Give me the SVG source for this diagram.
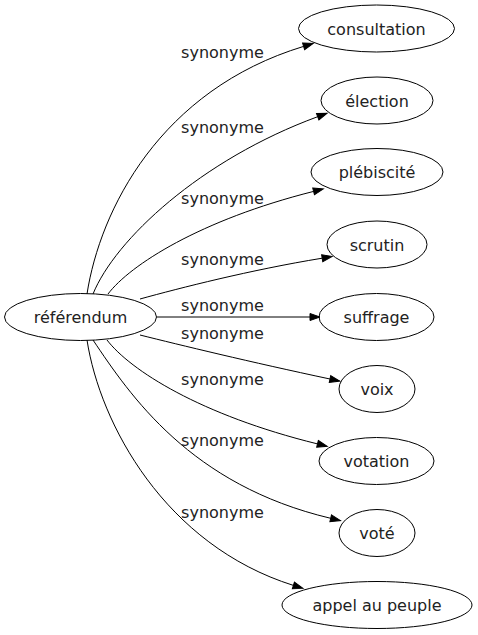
<svg xmlns="http://www.w3.org/2000/svg" width="478" height="635" viewBox="0 0 478 635">
<defs>
<style>
.node ellipse{fill:none;stroke:#000;stroke-width:1}
.node text{font-family:"DejaVu Sans",Verdana,sans-serif;font-size:16px;fill:#222;text-anchor:middle}
.edge path{fill:none;stroke:#000;stroke-width:1}
.lbl{font-family:"DejaVu Sans",Verdana,sans-serif;font-size:16px;fill:#222;text-anchor:middle}
</style>
<marker id="arr" markerUnits="userSpaceOnUse" markerWidth="12" markerHeight="9" viewBox="0 -4.5 12 9" refX="0" refY="0" orient="auto" overflow="visible">
<path d="M0,-3.5 L10,0 L0,3.5 z" fill="#000" stroke="#000" stroke-width="1"/>
</marker>
</defs>
<rect width="478" height="635" fill="#fff"/>
<g id="edges" class="edge">
<path d="M87,294 C100,210 160,90 303.6,46.4" marker-end="url(#arr)"/>
<path d="M93,294 C115,240 200,160 317.7,116.7" marker-end="url(#arr)"/>
<path d="M108,294 C130,265 200,220 313.6,191.4" marker-end="url(#arr)"/>
<path d="M140,299 C180,288 250,270 322.2,258.2" marker-end="url(#arr)"/>
<path d="M157,317 L310,317" marker-end="url(#arr)"/>
<path d="M140,335 C180,345 250,362 330,379" marker-end="url(#arr)"/>
<path d="M107,340 C130,370 200,415 317.5,443.9" marker-end="url(#arr)"/>
<path d="M93,340 C130,395 190,485 330.7,518.3" marker-end="url(#arr)"/>
<path d="M87,340 C100,424 165,545 293.4,585.4" marker-end="url(#arr)"/>
<text class="lbl" x="222.5" y="57.5">synonyme</text>
<text class="lbl" x="222.5" y="132.5">synonyme</text>
<text class="lbl" x="222.5" y="204">synonyme</text>
<text class="lbl" x="222.5" y="264.5">synonyme</text>
<text class="lbl" x="222.5" y="311">synonyme</text>
<text class="lbl" x="222.5" y="338.5">synonyme</text>
<text class="lbl" x="222.5" y="384.5">synonyme</text>
<text class="lbl" x="222.5" y="446">synonyme</text>
<text class="lbl" x="222.5" y="517.5">synonyme</text>
</g>
<g id="referendum" class="node"><ellipse cx="80.5" cy="317" rx="76" ry="23.5"/><text x="80.5" y="323">référendum</text></g>
<g id="consultation" class="node"><ellipse cx="376.5" cy="28.5" rx="78" ry="23.5"/><text x="376.5" y="34.5">consultation</text></g>
<g id="election" class="node"><ellipse cx="377" cy="100.5" rx="56" ry="23.5"/><text x="377" y="106.5">élection</text></g>
<g id="plebiscite" class="node"><ellipse cx="377" cy="172" rx="66" ry="23.5"/><text x="377" y="178">plébiscité</text></g>
<g id="scrutin" class="node"><ellipse cx="377" cy="244.5" rx="50" ry="23.5"/><text x="377" y="250.5">scrutin</text></g>
<g id="suffrage" class="node"><ellipse cx="376.5" cy="317" rx="57.5" ry="23.5"/><text x="376.5" y="323">suffrage</text></g>
<g id="voix" class="node"><ellipse cx="377" cy="389" rx="38" ry="23.5"/><text x="377" y="395">voix</text></g>
<g id="votation" class="node"><ellipse cx="376.5" cy="461" rx="57.5" ry="23.5"/><text x="376.5" y="467">votation</text></g>
<g id="vote" class="node"><ellipse cx="377" cy="533" rx="38" ry="23.5"/><text x="377" y="539">voté</text></g>
<g id="appel" class="node"><ellipse cx="377" cy="605" rx="95" ry="23.5"/><text x="377" y="611">appel au peuple</text></g>
</svg>
